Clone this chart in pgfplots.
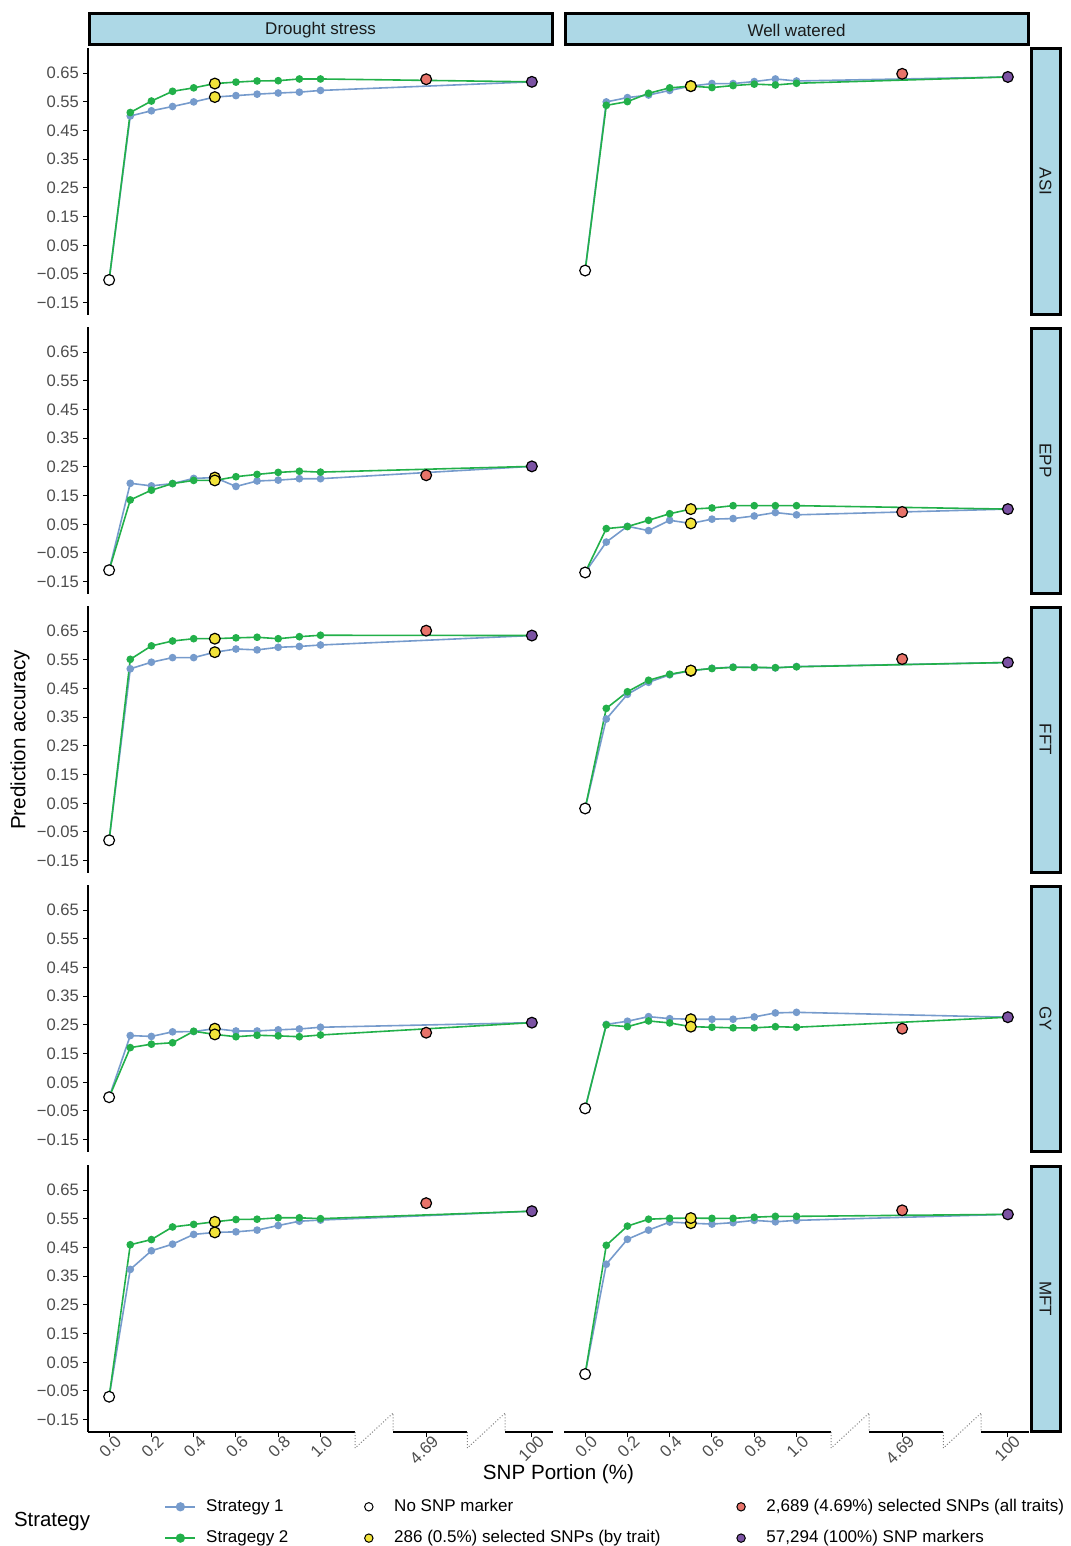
\documentclass[border=0pt]{standalone}
\usepackage{fontspec}
\setmainfont{Liberation Sans}
\usepackage{pgfplots}
\pgfplotsset{compat=1.18}
\definecolor{sone}{HTML}{769BCC}
\definecolor{stwo}{HTML}{22B04A}
\definecolor{cred}{HTML}{E8736A}
\definecolor{cyel}{HTML}{F2E33A}
\definecolor{cpur}{HTML}{7B52A3}
\definecolor{stripc}{HTML}{ADD8E6}
\definecolor{tickgray}{HTML}{4D4D4D}
\definecolor{striptext}{HTML}{1A1A1A}

\pgfplotsset{
  panel/.style={
    scale only axis, width=232.5pt, height=133.5pt,
    xmin=-1, xmax=21, ymin=-0.193, ymax=0.738,
    axis line style={draw=none},
    clip=false,
    tick align=outside,
    major tick length=2.5pt,
    tick style={black, line width=0.5pt},
    xtick=\empty, ytick=\empty,
    ticklabel style={font=\fontsize{8.3}{10}\selectfont, text=tickgray},
  },
  lcol/.style={
    ytick={-0.15,-0.05,0.05,0.15,0.25,0.35,0.45,0.55,0.65},
    yticklabels={−0.15,−0.05,0.05,0.15,0.25,0.35,0.45,0.55,0.65},
    ytick pos=left,
    yticklabel style={xshift=1.5pt},
  },
  brow/.style={
    xtick={0,2,4,6,8,10,15,20},
    xticklabels={0.0,0.2,0.4,0.6,0.8,1.0,4.69,100},
    xtick pos=bottom,
    xticklabel style={xshift=2.5pt, yshift=3pt, rotate=45, anchor=north east, inner sep=1pt},
  },
  s1/.style={sone, line width=0.8pt, mark=*, mark size=1.5pt, mark options={draw=sone, fill=sone, solid}},
  s2/.style={stwo, line width=0.8pt, mark=*, mark size=1.5pt, mark options={draw=stwo, fill=stwo, solid}},
  big/.style={only marks, mark=*, mark size=2.7pt, draw=black, line width=0.6pt},
}

\newcommand{\yline}{\draw[black,line width=0.8pt] (rel axis cs:0,0) -- (rel axis cs:0,1);}
\newcommand{\brokenx}{%
 \draw[black,line width=0.8pt] (axis cs:-1,-0.193) -- (axis cs:11.64,-0.193);
 \draw[black,line width=0.8pt] (axis cs:13.44,-0.193) -- (axis cs:16.95,-0.193);
 \draw[black,line width=0.8pt] (axis cs:18.74,-0.193) -- (axis cs:21,-0.193);
 \draw[gray, densely dotted, line width=0.5pt] (axis cs:11.64,-0.193) -- (axis cs:11.64,-0.2488) -- (axis cs:13.44,-0.1267) -- (axis cs:13.44,-0.193);
 \draw[gray, densely dotted, line width=0.5pt] (axis cs:16.95,-0.193) -- (axis cs:16.95,-0.2488) -- (axis cs:18.74,-0.1267) -- (axis cs:18.74,-0.193);
}
\newcommand{\ptleg}[1]{\addlegendimage{legend image code/.code={\path (0pt,-1pt) (15pt,1pt); \filldraw[fill=#1, draw=black, line width=0.5pt] (7.5pt,0pt) circle[radius=2.1pt];}}}

% #1 axis options, #2 extra drawing, #3 blue, #4 green, #5 white, #6 yellow coords, #7 red, #8 purple
\newcommand{\panel}[8]{%
\begin{axis}[panel, anchor=north west, #1]
\addplot[s1] coordinates {#3};
\addplot[s2] coordinates {#4};
\addplot[big, fill=white] coordinates {(0,#5)};
\addplot[big, fill=cyel] coordinates {#6};
\addplot[big, fill=cred] coordinates {(15,#7)};
\addplot[big, fill=cpur] coordinates {(20,#8)};
#2
\end{axis}}

\begin{document}
\begin{tikzpicture}
\begin{scope}[x=0.5pt,y=-0.5pt]
% top strips
\draw[fill=stripc, line width=1.5pt] (89,14) rectangle (552,45);
\draw[fill=stripc, line width=1.5pt] (565,14) rectangle (1028,45);
\node[text=striptext, font=\fontsize{8.5}{10}\selectfont] at (320.5,30) {Drought stress};
\node[text=striptext, font=\fontsize{8.5}{10}\selectfont] at (796.5,30) {Well watered};
% right strips
\foreach \t/\lab in {48/ASI,327/EPP,606/FFT,885/GY,1165/MFT}{
  \draw[fill=stripc, line width=1.5pt] (1031,\t+1) rectangle (1060,\t+266);
  \node[text=striptext, font=\fontsize{8.5}{10}\selectfont, rotate=-90] at (1045.5,\t+133.5) {\lab};
}
\node[rotate=90, font=\fontsize{10.3}{12}\selectfont] at (20,740) {Prediction accuracy};
\node[font=\fontsize{10.3}{12}\selectfont] at (558.5,1474) {SNP Portion (\%)};
\node[font=\fontsize{10.2}{12}\selectfont] at (52,1521) {Strategy};
\end{scope}

% Row 1: ASI
\panel{at={(44pt,-24pt)}, lcol}{\yline}
{(0,-0.071) (1,0.501) (2,0.519) (3,0.534) (4,0.550) (5,0.567) (6,0.572) (7,0.577) (8,0.581) (9,0.584) (10,0.590) (20,0.620)}
{(0,-0.071) (1,0.513) (2,0.553) (3,0.587) (4,0.599) (5,0.614) (6,0.619) (7,0.623) (8,0.624) (9,0.630) (10,0.630) (20,0.620)}
{-0.071}{(5,0.567) (5,0.614)}{0.629}{0.620}
\panel{at={(282pt,-24pt)}}{}
{(0,-0.038) (1,0.550) (2,0.565) (3,0.574) (4,0.590) (5,0.605) (6,0.614) (7,0.614) (8,0.621) (9,0.630) (10,0.623) (20,0.637)}
{(0,-0.038) (1,0.538) (2,0.551) (3,0.580) (4,0.599) (5,0.605) (6,0.600) (7,0.607) (8,0.612) (9,0.609) (10,0.615) (20,0.637)}
{-0.038}{(5,0.605) (5,0.605)}{0.648}{0.637}

% Row 2: EPP
\panel{at={(44pt,-163.5pt)}, lcol}{\yline}
{(0,-0.110) (1,0.193) (2,0.184) (3,0.192) (4,0.210) (5,0.213) (6,0.182) (7,0.201) (8,0.204) (9,0.209) (10,0.209) (20,0.252)}
{(0,-0.110) (1,0.135) (2,0.169) (3,0.192) (4,0.203) (5,0.203) (6,0.216) (7,0.224) (8,0.231) (9,0.235) (10,0.232) (20,0.252)}
{-0.110}{(5,0.213) (5,0.203)}{0.221}{0.252}
\panel{at={(282pt,-163.5pt)}}{}
{(0,-0.118) (1,-0.012) (2,0.043) (3,0.028) (4,0.064) (5,0.053) (6,0.068) (7,0.070) (8,0.079) (9,0.091) (10,0.083) (20,0.103)}
{(0,-0.118) (1,0.035) (2,0.042) (3,0.064) (4,0.087) (5,0.103) (6,0.107) (7,0.115) (8,0.115) (9,0.115) (10,0.115) (20,0.103)}
{-0.118}{(5,0.053) (5,0.103)}{0.093}{0.103}

% Row 3: FFT
\panel{at={(44pt,-303pt)}, lcol}{\yline}
{(0,-0.079) (1,0.519) (2,0.542) (3,0.558) (4,0.558) (5,0.577) (6,0.588) (7,0.585) (8,0.594) (9,0.597) (10,0.602) (20,0.635)}
{(0,-0.079) (1,0.552) (2,0.599) (3,0.616) (4,0.624) (5,0.624) (6,0.627) (7,0.629) (8,0.624) (9,0.631) (10,0.636) (20,0.635)}
{-0.079}{(5,0.577) (5,0.624)}{0.652}{0.635}
\panel{at={(282pt,-303pt)}}{}
{(0,0.032) (1,0.344) (2,0.430) (3,0.472) (4,0.498) (5,0.512) (6,0.521) (7,0.525) (8,0.524) (9,0.522) (10,0.527) (20,0.541)}
{(0,0.032) (1,0.381) (2,0.439) (3,0.479) (4,0.500) (5,0.513) (6,0.520) (7,0.524) (8,0.524) (9,0.523) (10,0.526) (20,0.541)}
{0.032}{(5,0.512) (5,0.513)}{0.553}{0.541}

% Row 4: GY
\panel{at={(44pt,-442.5pt)}, lcol}{\yline}
{(0,-0.002) (1,0.213) (2,0.210) (3,0.226) (4,0.227) (5,0.237) (6,0.229) (7,0.229) (8,0.233) (9,0.236) (10,0.242) (20,0.258)}
{(0,-0.002) (1,0.171) (2,0.183) (3,0.188) (4,0.228) (5,0.217) (6,0.209) (7,0.214) (8,0.212) (9,0.209) (10,0.215) (20,0.258)}
{-0.002}{(5,0.237) (5,0.217)}{0.223}{0.258}
\panel{at={(282pt,-442.5pt)}}{}
{(0,-0.041) (1,0.252) (2,0.263) (3,0.279) (4,0.272) (5,0.270) (6,0.270) (7,0.270) (8,0.278) (9,0.292) (10,0.294) (20,0.277)}
{(0,-0.041) (1,0.250) (2,0.244) (3,0.264) (4,0.257) (5,0.244) (6,0.242) (7,0.240) (8,0.240) (9,0.244) (10,0.242) (20,0.277)}
{-0.041}{(5,0.270) (5,0.244)}{0.237}{0.277}

% Row 5: MFT
\panel{at={(44pt,-582.5pt)}, lcol, brow}{\yline\brokenx}
{(0,-0.070) (1,0.374) (2,0.439) (3,0.462) (4,0.496) (5,0.503) (6,0.505) (7,0.511) (8,0.527) (9,0.542) (10,0.546) (20,0.577)}
{(0,-0.070) (1,0.460) (2,0.478) (3,0.522) (4,0.531) (5,0.540) (6,0.548) (7,0.549) (8,0.554) (9,0.554) (10,0.551) (20,0.577)}
{-0.070}{(5,0.503) (5,0.540)}{0.605}{0.577}
\panel{at={(282pt,-582.5pt)}, brow}{\brokenx}
{(0,0.009) (1,0.392) (2,0.479) (3,0.511) (4,0.539) (5,0.535) (6,0.532) (7,0.537) (8,0.545) (9,0.540) (10,0.545) (20,0.566)}
{(0,0.009) (1,0.458) (2,0.525) (3,0.549) (4,0.552) (5,0.553) (6,0.552) (7,0.552) (8,0.556) (9,0.559) (10,0.559) (20,0.566)}
{0.009}{(5,0.535) (5,0.553)}{0.580}{0.566}

% Legend
\begin{axis}[at={(44pt,-582.5pt)}, anchor=north west, scale only axis, width=232.5pt, height=133.5pt,
  hide axis, xmin=0, xmax=1, ymin=0, ymax=1,
  legend columns=3, legend cell align=left,
  legend image code/.code={\draw[mark repeat=2,mark phase=2,#1] plot coordinates {(0pt,0pt) (7.5pt,0pt) (15pt,0pt)};},
  legend style={at={(0.151,-0.22)}, anchor=north west, draw=none, fill=none,
    font=\fontsize{8.5}{10}\selectfont, row sep=4pt,
    /tikz/every odd column/.append style={column sep=3pt},
    /tikz/every even column/.append style={column sep=30.5pt}}]
\addlegendimage{s1, mark size=1.9pt}
\addlegendentry{Strategy 1}
\ptleg{white}
\addlegendentry{No SNP marker}
\ptleg{cred}
\addlegendentry{2,689 (4.69\%) selected SNPs (all traits)}
\addlegendimage{s2, mark size=1.9pt}
\addlegendentry{Stragegy 2}
\ptleg{cyel}
\addlegendentry{286 (0.5\%) selected SNPs (by trait)}
\ptleg{cpur}
\addlegendentry{57,294 (100\%) SNP markers}
\end{axis}
\pgfresetboundingbox
\path[use as bounding box] (0pt,0pt) rectangle (535pt,-773pt);
\end{tikzpicture}
\end{document}
